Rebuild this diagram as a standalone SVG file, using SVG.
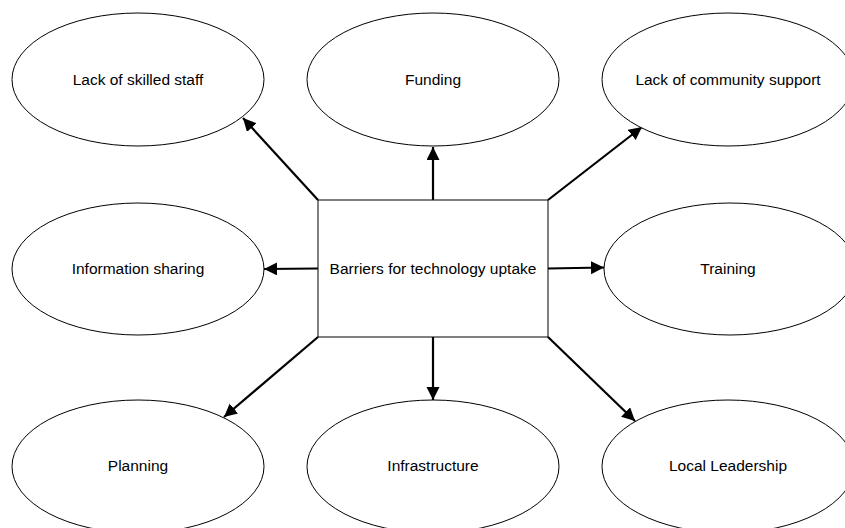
<svg xmlns="http://www.w3.org/2000/svg" width="845" height="528" viewBox="0 0 845 528">
<style>
.n ellipse,.n rect{fill:#fff;stroke:#000;stroke-width:1}
text{font-family:"Liberation Sans",Arial,sans-serif;font-size:15.5px;fill:#000;text-anchor:middle}
.c line{stroke:#000;stroke-width:2.2;marker-end:url(#ah)}
</style>
<defs>
<marker id="ah" markerUnits="userSpaceOnUse" markerWidth="14" markerHeight="14" refX="13" refY="6.5" orient="auto">
<path d="M0,0 L13,6.5 L0,13 Z" fill="#000"/>
</marker>
</defs>
<rect width="845" height="528" fill="#fff"/>
<g class="c">
<line x1="318" y1="200" x2="243" y2="118"/>
<line x1="433" y1="200" x2="433" y2="147"/>
<line x1="548" y1="200" x2="642" y2="127"/>
<line x1="318" y1="268.5" x2="264" y2="269"/>
<line x1="548" y1="268.5" x2="604" y2="267.5"/>
<line x1="318" y1="337" x2="224" y2="417"/>
<line x1="433" y1="337" x2="433" y2="400"/>
<line x1="548" y1="337" x2="635" y2="421"/>
</g>
<g id="n0" class="n"><rect x="318" y="200" width="230" height="137"/><text x="433" y="273.5">Barriers for technology uptake</text></g>
<g id="n1" class="n"><ellipse cx="138" cy="79.5" rx="126" ry="66.5"/><text x="138" y="84.5">Lack of skilled staff</text></g>
<g id="n2" class="n"><ellipse cx="433" cy="79.5" rx="126" ry="66.5"/><text x="433" y="84.5">Funding</text></g>
<g id="n3" class="n"><ellipse cx="728" cy="79.5" rx="126" ry="66.5"/><text x="728" y="84.5">Lack of community support</text></g>
<g id="n4" class="n"><ellipse cx="138" cy="269" rx="126" ry="66"/><text x="138" y="273.5">Information sharing</text></g>
<g id="n5" class="n"><ellipse cx="730" cy="269" rx="126" ry="66"/><text x="728" y="273.5">Training</text></g>
<g id="n6" class="n"><ellipse cx="138" cy="466.5" rx="126" ry="66.5"/><text x="138" y="471">Planning</text></g>
<g id="n7" class="n"><ellipse cx="433" cy="466.5" rx="126" ry="66.5"/><text x="433" y="471">Infrastructure</text></g>
<g id="n8" class="n"><ellipse cx="728" cy="466.5" rx="126" ry="66.5"/><text x="728" y="471">Local Leadership</text></g>
</svg>
